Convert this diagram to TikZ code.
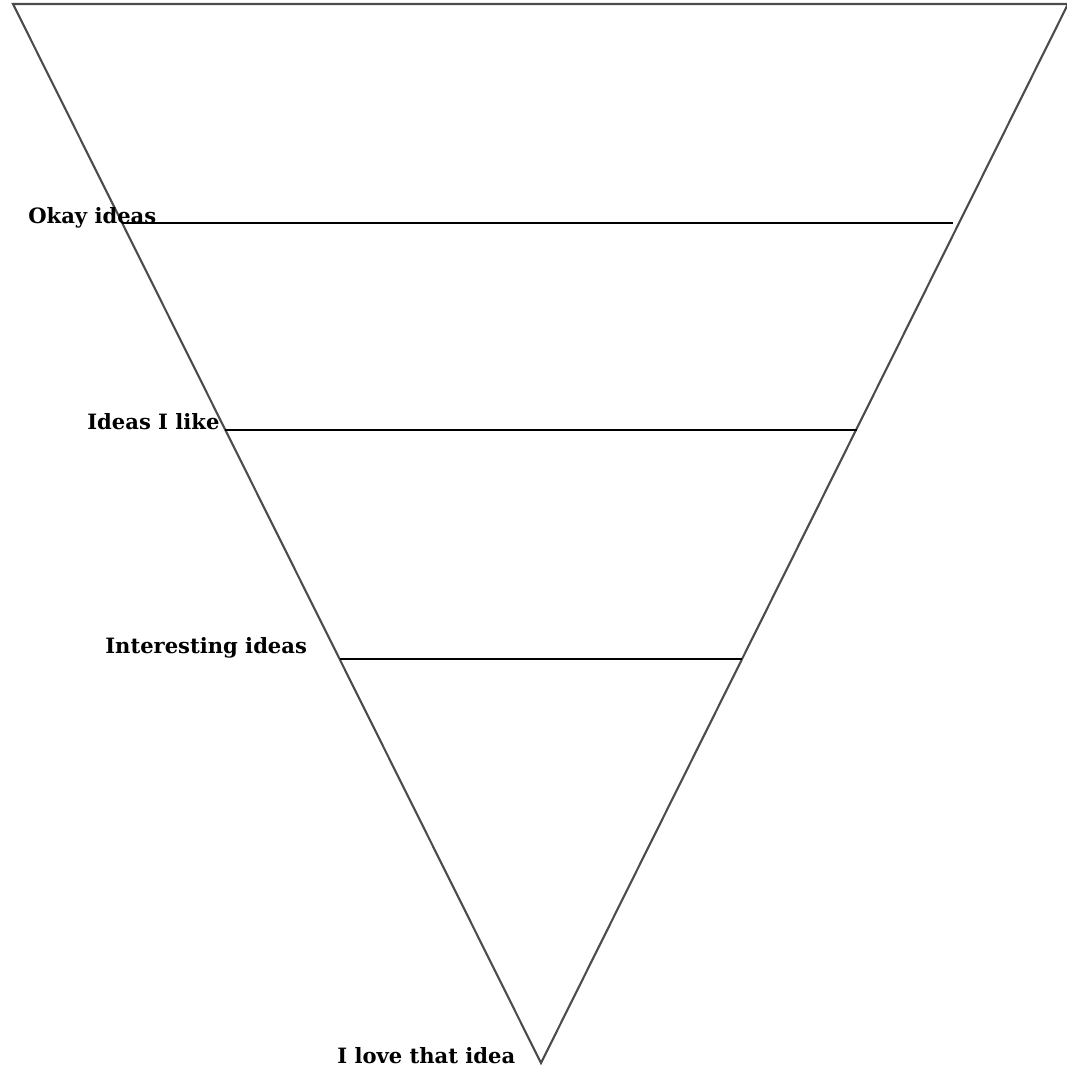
\documentclass[tikz,border=0pt]{standalone}
\usepackage{fontspec}
\setmainfont{DejaVu Serif}
\usetikzlibrary{positioning}
\usetikzlibrary{calc}

\begin{document}
\begin{tikzpicture}[x=0.02cm,y=-0.02cm]
    \useasboundingbox (0,0) rectangle (1067,1066);
    % funnel corners
    \coordinate (tl) at (13,4);
    \coordinate (tr) at (1068,4);
    \coordinate (bot) at (541,1063);
    \draw[line width=1.2pt,black!70,line join=miter] (tl) -- (tr) -- (bot) -- cycle;
    % level ends
    \coordinate (a1) at (122,223);
    \coordinate (a2) at (953,223);
    \coordinate (b1) at (225,430);
    \coordinate (b2) at (857,430);
    \coordinate (c1) at (340,659);
    \coordinate (c2) at (742,659);
    \begin{scope}[every edge/.style={draw=black,line width=0.9pt}]
    \path (a1) edge (a2);
    \path (b1) edge (b2);
    \path (c1) edge (c2);
    \end{scope}
    \begin{scope}[every node/.style={anchor=base west,inner sep=0pt,font=\fontsize{12}{14}\selectfont\bfseries}]
    \node (okay) at (28,223) {Okay ideas};
    \node (like) at (87,429) {Ideas I like};
    \node (inter) at (105,653) {Interesting ideas};
    \node (love) at (337,1063) {I love that idea};
    \end{scope}
\end{tikzpicture}
\end{document}
